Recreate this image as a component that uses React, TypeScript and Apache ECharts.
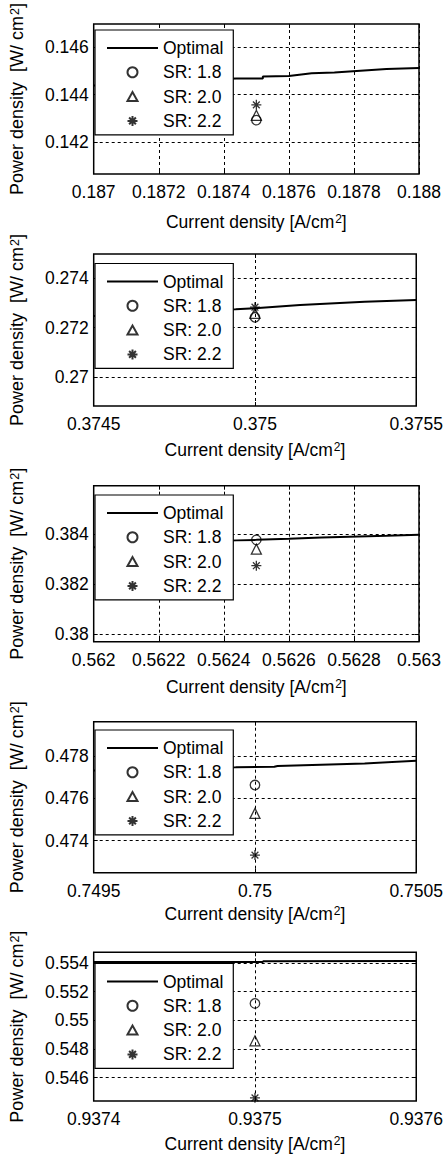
import React, { useEffect, useRef } from "react";
import * as echarts from "echarts";

const FONT = "'Liberation Sans', Arial, Helvetica, sans-serif";

// ---- data ----
const seriesNames = ["Optimal", "SR: 1.8", "SR: 2.0", "SR: 2.2"];
const operatingX = [0.1875, 0.375, 0.5625, 0.75, 0.9375];
const sr18 = [0.14293, 0.27242, 0.38376, 0.47663, 0.55117];
const sr20 = [0.14313, 0.27258, 0.38339, 0.47529, 0.54856];
const sr22 = [0.14357, 0.27283, 0.38273, 0.47332, 0.54458];

const optX1 = [0.187, 0.18702, 0.18702, 0.18744, 0.18752, 0.18752, 0.1876, 0.18767, 0.18774, 0.18782, 0.1879, 0.188];
const optY1 = [0.14438, 0.14438, 0.14455, 0.14467, 0.14467, 0.14476, 0.14478, 0.14489, 0.14493, 0.145, 0.14507, 0.14511];
const optX2 = [0.3745, 0.37451, 0.37451, 0.37494, 0.375, 0.37514, 0.37534, 0.3755];
const optY2 = [0.27247, 0.27247, 0.27262, 0.27275, 0.27279, 0.27292, 0.27305, 0.27312];
const optX3 = [0.562, 0.56203, 0.56203, 0.56244, 0.5625, 0.5626, 0.5627, 0.5629, 0.563];
const optY3 = [0.38347, 0.38347, 0.3836, 0.38374, 0.38376, 0.3838, 0.38385, 0.38392, 0.38396];
const optX4 = [0.7495, 0.74951, 0.74951, 0.74994, 0.75006, 0.75007, 0.75034, 0.7505];
const optY4 = [0.47731, 0.47731, 0.4774, 0.47747, 0.47749, 0.47753, 0.47765, 0.47778];
const optX5 = [0.9374, 0.937505, 0.937505, 0.9376];
const optY5 = [0.55406, 0.55406, 0.55412, 0.55413];
const optXs = [optX1, optX2, optX3, optX4, optX5];
const optYs = [optY1, optY2, optY3, optY4, optY5];

const xMins = [0.187, 0.3745, 0.562, 0.7495, 0.9374];
const xMaxs = [0.188, 0.3755, 0.563, 0.7505, 0.9376];
const yMins = [0.14067, 0.26882, 0.3797, 0.47249, 0.54436];
const yMaxs = [0.14696, 0.27499, 0.38592, 0.47962, 0.55474];

const xTicks1 = [0.187, 0.1872, 0.1874, 0.1876, 0.1878, 0.188];
const xTicks2 = [0.3745, 0.375, 0.3755];
const xTicks3 = [0.562, 0.5622, 0.5624, 0.5626, 0.5628, 0.563];
const xTicks4 = [0.7495, 0.75, 0.7505];
const xTicks5 = [0.9374, 0.9375, 0.9376];
const yTicks1 = [0.142, 0.144, 0.146];
const yTicks2 = [0.27, 0.272, 0.274];
const yTicks3 = [0.38, 0.382, 0.384];
const yTicks4 = [0.474, 0.476, 0.478];
const yTicks5 = [0.546, 0.548, 0.55, 0.552, 0.554];
const xTicks = [xTicks1, xTicks2, xTicks3, xTicks4, xTicks5];
const yTicks = [yTicks1, yTicks2, yTicks3, yTicks4, yTicks5];

const xAxisName = "{t|Current density [A/cm}{s|2}{t|]}";
const yAxisName = "{t|Power density  [W/ cm}{s|2}{t|]}";

// ---- layout ----
const gridTops = [19, 254, 485.7, 721.7, 952.3];
const gridHeights = [155, 152, 156, 151, 153.7];
const legendTops = [30, 263.5, 495, 730, 963.5];
const xNameGaps = [39, 35, 36, 32, 34];

const STAR = "path://M5,0L5,10M0,5L10,5M1.6,1.6L8.4,8.4M8.4,1.6L1.6,8.4";
const LINE_ICON = "path://M0,0L51,0L51,2L0,2Z";
// triangle centred in a 51x10 box (the lone moves only widen the bounding box)
const TRI_ICON = "path://M0,0M51,10M20.5,9.5L25.5,0.5L30.5,9.5Z";

const richX = {
  t: { fontSize: 17.5, fontFamily: FONT, color: "#000", lineHeight: 18, verticalAlign: "bottom" },
  s: { fontSize: 12, fontFamily: FONT, color: "#000", lineHeight: 12, verticalAlign: "top", padding: [0, 0, 13, 1] },
};
const richY = {
  t: { fontSize: 18, fontFamily: FONT, color: "#000", lineHeight: 18, verticalAlign: "bottom" },
  s: { fontSize: 12.5, fontFamily: FONT, color: "#000", lineHeight: 12.5, verticalAlign: "top", padding: [0, 0, 13, 1] },
};

function buildOption() {
  const grid: any[] = [];
  const xAxis: any[] = [];
  const yAxis: any[] = [];
  const series: any[] = [];
  const legend: any[] = [];
  for (let i = 0; i < 5; i++) {
    grid.push({
      left: 85.7,
      right: 27,
      top: gridTops[i],
      height: gridHeights[i],
      show: true,
      borderColor: "#000",
      borderWidth: 1.5,
      backgroundColor: "#fff",
    });
    const tickStyle = { customValues: xTicks[i], inside: true, length: 4, lineStyle: { color: "#000", width: 1 } };
    xAxis.push({
      type: "value",
      gridIndex: i,
      position: "bottom",
      min: xMins[i],
      max: xMaxs[i],
      axisLine: { show: false },
      axisTick: tickStyle,
      axisLabel: {
        customValues: xTicks[i],
        formatter: (v: number) => String(v),
        color: "#000",
        fontSize: 17.5,
        fontFamily: FONT,
        margin: 9,
      },
      splitLine: { show: true, lineStyle: { color: "#000", width: 1, type: [3, 3] } },
      name: xAxisName,
      nameLocation: "middle",
      nameGap: xNameGaps[i],
      nameTextStyle: { rich: richX },
    });
    xAxis.push({
      type: "value",
      gridIndex: i,
      position: "top",
      min: xMins[i],
      max: xMaxs[i],
      axisLine: { show: false },
      axisTick: tickStyle,
      axisLabel: { show: false },
      splitLine: { show: false },
    });
    const yTickStyle = { customValues: yTicks[i], inside: true, length: 4, lineStyle: { color: "#000", width: 1 } };
    yAxis.push({
      type: "value",
      gridIndex: i,
      position: "left",
      min: yMins[i],
      max: yMaxs[i],
      axisLine: { show: false },
      axisTick: yTickStyle,
      axisLabel: {
        customValues: yTicks[i],
        formatter: (v: number) => String(v),
        color: "#000",
        fontSize: 17.5,
        fontFamily: FONT,
        margin: 5,
      },
      splitLine: { show: true, lineStyle: { color: "#000", width: 1, type: [3, 3] } },
      name: yAxisName,
      nameLocation: "middle",
      nameGap: 40,
      nameTextStyle: { rich: richY },
    });
    yAxis.push({
      type: "value",
      gridIndex: i,
      position: "right",
      min: yMins[i],
      max: yMaxs[i],
      axisLine: { show: false },
      axisTick: yTickStyle,
      axisLabel: { show: false },
      splitLine: { show: false },
    });
    series.push({
      name: seriesNames[0],
      type: "line",
      xAxisIndex: 2 * i,
      yAxisIndex: 2 * i,
      data: optXs[i].map((x, k) => [x, optYs[i][k]]),
      symbol: "none",
      showSymbol: false,
      lineStyle: { color: "#000", width: 2 },
      itemStyle: { color: "#000" },
      z: 2,
    });
    const markerVals = [sr18, sr20, sr22];
    const symbols = ["circle", "triangle", STAR];
    const sizes = [9.5, 10, 10];
    for (let m = 0; m < 3; m++) {
      series.push({
        name: seriesNames[m + 1],
        type: "scatter",
        xAxisIndex: 2 * i,
        yAxisIndex: 2 * i,
        data: [[operatingX[i], markerVals[m][i]]],
        symbol: symbols[m],
        symbolSize: sizes[m],
        symbolKeepAspect: true,
        itemStyle: { color: "rgba(0,0,0,0)", borderColor: "#000", borderWidth: 1.3 },
        z: 3,
      });
    }
    legend.push({
      data: [
        { name: seriesNames[0], icon: LINE_ICON, itemStyle: { color: "#000", borderWidth: 0 } },
        { name: seriesNames[1], icon: "circle" },
        { name: seriesNames[2], icon: TRI_ICON },
        { name: seriesNames[3], icon: STAR },
      ],
      left: 95,
      top: legendTops[i],
      orient: "vertical",
      padding: [9, 10, 5, 11],
      itemGap: 6.3,
      itemWidth: 51,
      itemHeight: 10,
      symbolKeepAspect: true,
      selectedMode: false,
      backgroundColor: "#fff",
      borderColor: "#000",
      borderWidth: 1.2,
      borderRadius: 0,
      textStyle: { fontSize: 17.5, fontFamily: FONT, color: "#000" },
      z: 10,
    });
  }
  return {
    animation: false,
    backgroundColor: "#fff",
    grid,
    xAxis,
    yAxis,
    series,
    legend,
  };
}

export default function App() {
  const ref = useRef<HTMLDivElement>(null);
  useEffect(() => {
    if (!ref.current) return;
    const chart = echarts.init(ref.current, null, { renderer: "svg" });
    chart.setOption(buildOption() as any);
    return () => chart.dispose();
  }, []);
  return (
    <div
      ref={ref}
      style={{ position: "absolute", left: 0, top: 0, width: 446, height: 1161, background: "#fff" }}
    />
  );
}
